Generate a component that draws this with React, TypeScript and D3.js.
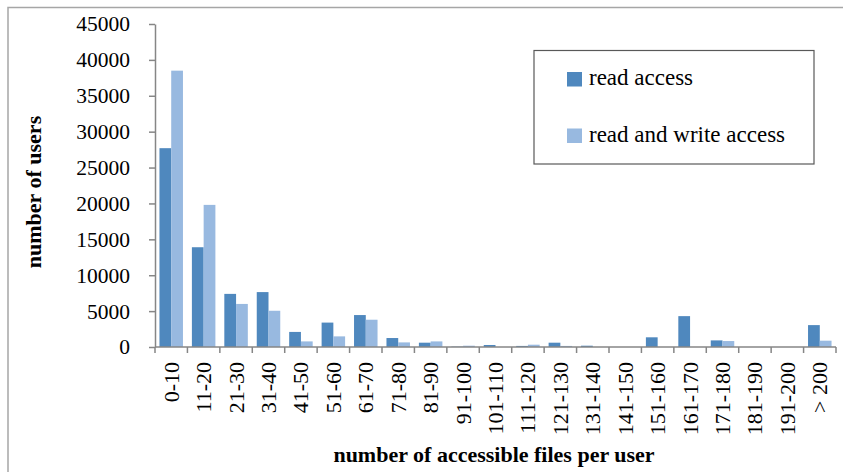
import React, { useRef, useEffect } from 'react';
import * as d3 from 'd3';

// --- DATA ---
const categories = [
  '0-10', '11-20', '21-30', '31-40', '41-50', '51-60', '61-70', '71-80', '81-90', '91-100',
  '101-110', '111-120', '121-130', '131-140', '141-150', '151-160', '161-170', '171-180',
  '181-190', '191-200', '> 200',
];
const readAccess = [
  27700, 13900, 7400, 7650, 2100, 3400, 4450, 1250, 600, 50,
  280, 150, 600, 180, 0, 1350, 4300, 920, 0, 0, 3050,
];
const readWriteAccess = [
  38500, 19800, 6000, 5050, 780, 1480, 3800, 640, 780, 180,
  0, 320, 150, 0, 0, 0, 0, 830, 0, 0, 880,
];
const seriesNames = ['read access', 'read and write access'];
const seriesColors = ['#4F88BE', '#98B9E0'];
const yTicks = [0, 5000, 10000, 15000, 20000, 25000, 30000, 35000, 40000, 45000];

const W = 843;
const H = 472;
const FONT = '"Liberation Serif", "DejaVu Serif", serif';

export default function App() {
  const svgRef = useRef<SVGSVGElement>(null);

  useEffect(() => {
    if (!svgRef.current) return;
    const svg = d3.select(svgRef.current);
    svg.selectAll('*').remove();

    // plot area (matches reference layout)
    const left = 155, right = 836, top = 24, bottom = 347;

    // outer frame (only top and left edges visible in the crop)
    svg.append('path')
      .attr('d', `M8,${H} L8,7.5 L${W},7.5`)
      .attr('fill', 'none')
      .attr('stroke', '#a6a6a6')
      .attr('stroke-width', 1.5);

    const x = d3.scaleBand().domain(categories).range([left, right]).paddingInner(0).paddingOuter(0);
    const inner = d3.scaleBand().domain(seriesNames).range([0, x.bandwidth()]).paddingInner(0).paddingOuter(0.38);
    const y = d3.scaleLinear().domain([0, 45000]).range([bottom, top]);

    // bars
    const series = [readAccess, readWriteAccess];
    series.forEach((vals, si) => {
      svg.append('g')
        .selectAll('rect')
        .data(vals)
        .enter()
        .append('rect')
        .attr('x', (_d, i) => (x(categories[i]) || 0) + (inner(seriesNames[si]) || 0))
        .attr('width', inner.bandwidth())
        .attr('y', d => y(d))
        .attr('height', d => bottom - y(d))
        .attr('fill', seriesColors[si]);
    });

    const axisColor = '#868686';

    // Y axis
    const yAxis = svg.append('g')
      .attr('transform', `translate(${left},0)`)
      .call(d3.axisLeft(y).tickValues(yTicks).tickSize(6).tickSizeOuter(0).tickPadding(19).tickFormat(d3.format('d')));
    yAxis.select('.domain').attr('stroke', axisColor).attr('stroke-width', 1.5);
    yAxis.selectAll('.tick line').attr('stroke', axisColor).attr('stroke-width', 1.5);
    yAxis.selectAll('text')
      .attr('fill', '#000')
      .style('font-size', '21.5px')
      .style('font-family', FONT);

    // X axis: ticks at band boundaries
    const xg = svg.append('g');
    xg.append('line')
      .attr('x1', left).attr('x2', right)
      .attr('y1', bottom).attr('y2', bottom)
      .attr('stroke', axisColor).attr('stroke-width', 1.5);
    const boundaries = [...categories.map(c => x(c) || 0), right];
    xg.selectAll('line.tk')
      .data(boundaries)
      .enter()
      .append('line')
      .attr('class', 'tk')
      .attr('x1', d => d).attr('x2', d => d)
      .attr('y1', bottom).attr('y2', bottom + 6)
      .attr('stroke', axisColor).attr('stroke-width', 1.5);
    xg.selectAll('text')
      .data(categories)
      .enter()
      .append('text')
      .attr('transform', d => `translate(${(x(d) || 0) + x.bandwidth() / 2 + 7.5},${bottom + 15}) rotate(-90)`)
      .attr('text-anchor', 'end')
      .style('font-size', '22px')
      .style('font-family', FONT)
      .attr('fill', '#000')
      .text(d => d);

    // axis titles
    svg.append('text')
      .attr('x', 494)
      .attr('y', 462)
      .attr('text-anchor', 'middle')
      .style('font-size', '22px')
      .style('font-weight', 'bold')
      .style('font-family', FONT)
      .text('number of accessible files per user');

    svg.append('text')
      .attr('transform', 'translate(41,192) rotate(-90)')
      .attr('text-anchor', 'middle')
      .style('font-size', '22px')
      .style('font-weight', 'bold')
      .style('font-family', FONT)
      .text('number of users');

    // legend
    const lg = svg.append('g');
    lg.append('rect')
      .attr('x', 534).attr('y', 50.5)
      .attr('width', 280).attr('height', 113.5)
      .attr('fill', '#fff')
      .attr('stroke', '#595959')
      .attr('stroke-width', 1.2);
    seriesNames.forEach((name, i) => {
      const yy = 72 + i * 56.5;
      lg.append('rect')
        .attr('x', 567).attr('y', yy)
        .attr('width', 15).attr('height', 14.5)
        .attr('fill', seriesColors[i]);
      lg.append('text')
        .attr('x', 589).attr('y', yy + 13)
        .style('font-size', '23px')
        .style('font-family', FONT)
        .attr('fill', '#000')
        .text(name);
    });
  }, []);

  return (
    <svg
      ref={svgRef}
      width={W}
      height={H}
      style={{ position: 'absolute', left: 0, top: 0, background: '#fff' }}
    />
  );
}
